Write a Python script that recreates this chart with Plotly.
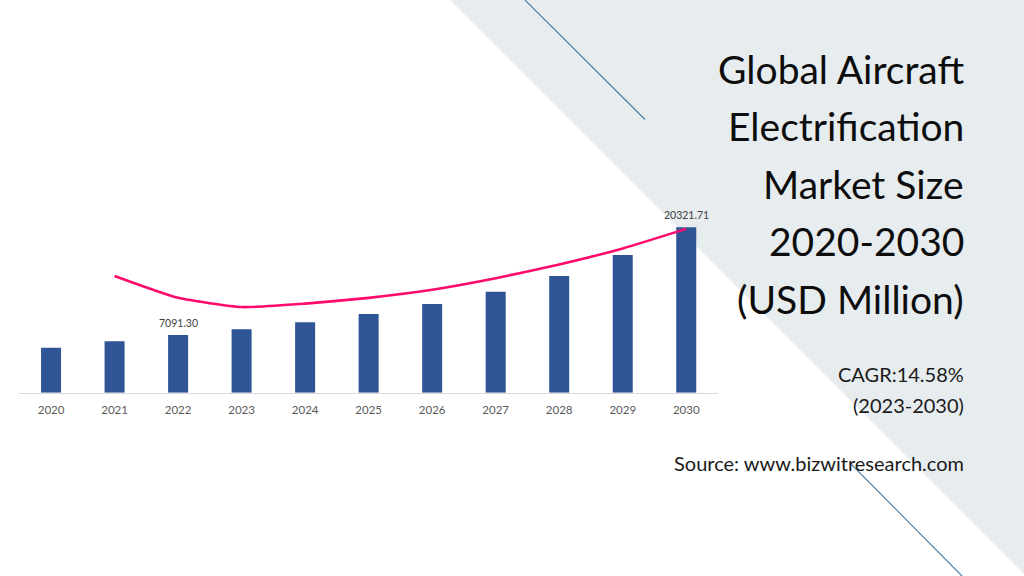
import plotly.graph_objects as go

W, H = 1024, 576

years = ["2020", "2021", "2022", "2023", "2024", "2025", "2026", "2027", "2028", "2029", "2030"]
market_size = [5530, 6315, 7091.30, 7790, 8650, 9670, 10900, 12410, 14340, 16920, 20321.71]
line_years = ["2021", "2022", "2023", "2024", "2025", "2026", "2027", "2028", "2029", "2030"]
line_values = [16.0, 14.1, 13.3, 13.6, 14.1, 14.8, 15.8, 17.0, 18.4, 20.1]
labeled_years = ["2022", "2030"]

title_lines = ["Global Aircraft", "Electrification", "Market Size", "2020-2030", "(USD Million)"]
cagr_lines = ["CAGR:14.58%", "(2023-2030)"]
source_text = "Source: www.bizwitresearch.com"

FONT = "Lato"

def px_x(x):
    return x / W

def px_y(y):
    return 1 - y / H

fig = go.Figure()
fig.add_trace(go.Bar(
    x=years, y=market_size, marker=dict(color="#2F5597", line=dict(width=0)),
    width=0.315, yaxis="y", hoverinfo="skip",
))
fig.add_trace(go.Scatter(
    x=line_years, y=line_values, mode="lines", yaxis="y2",
    line=dict(color="#FF0A6C", width=2.6, shape="spline", smoothing=0.5),
    hoverinfo="skip",
))

annotations = []
for i, (yr, v) in enumerate(zip(years, market_size)):
    if yr in labeled_years:
        annotations.append(dict(
            x=i, y=v, xref="x", yref="y", text=f"{v:.2f}", showarrow=False,
            xanchor="center", yanchor="bottom", yshift=4,
            font=dict(family=FONT, size=10.5, color="#404040"),
        ))

title_base = 68.5
for i, t in enumerate(title_lines):
    annotations.append(dict(
        x=px_x(966), y=px_y(title_base + i * 57.6), xref="paper", yref="paper",
        text=t, showarrow=False, xanchor="right", yanchor="middle",
        font=dict(family=FONT, size=39, color="#0D0D0D"),
    ))
for i, t in enumerate(cagr_lines):
    annotations.append(dict(
        x=px_x(966), y=px_y(374 + i * 30.5), xref="paper", yref="paper",
        text=t, showarrow=False, xanchor="right", yanchor="middle",
        font=dict(family=FONT, size=20, color="#1A1A1A"),
    ))
annotations.append(dict(
    x=px_x(966), y=px_y(463), xref="paper", yref="paper",
    text=source_text, showarrow=False, xanchor="right", yanchor="middle",
    font=dict(family=FONT, size=20, color="#1A1A1A"),
))

shapes = [
    dict(type="path", xref="paper", yref="paper", layer="below",
         path=f"M {px_x(450)},{px_y(0)} L {px_x(1024)},{px_y(0)} L {px_x(1024)},{px_y(574)} Z",
         fillcolor="#E7ECEF", line=dict(width=0)),
    dict(type="line", xref="paper", yref="paper", layer="below",
         x0=px_x(525), y0=px_y(0), x1=px_x(645), y1=px_y(119.5),
         line=dict(color="#4F7C9C", width=1.1)),
    dict(type="line", xref="paper", yref="paper", layer="above",
         x0=px_x(850), y0=px_y(463), x1=px_x(962), y1=px_y(576),
         line=dict(color="#4F7C9C", width=1.1)),
]

y_bottom_px = 392.7
y_top_px = 189.2

fig.update_layout(
    width=W, height=H,
    margin=dict(l=0, r=0, t=0, b=0, pad=0, autoexpand=False),
    paper_bgcolor="white", plot_bgcolor="rgba(0,0,0,0)",
    showlegend=False,
    xaxis=dict(
        domain=[px_x(19.3), px_x(718)], type="category", range=[-0.5, len(years) - 0.5],
        showline=True, linecolor="#D9D9D9", linewidth=1.3,
        showgrid=False, zeroline=False, ticks="", ticklabelstandoff=6,
        tickfont=dict(family=FONT, size=11.5, color="#595959"),
        fixedrange=True,
    ),
    yaxis=dict(
        domain=[px_y(y_bottom_px), px_y(y_top_px)], range=[0, 25000],
        visible=False, showgrid=False, zeroline=False, fixedrange=True,
    ),
    yaxis2=dict(
        domain=[px_y(y_bottom_px), px_y(y_top_px)], range=[5.85, 23.55],
        overlaying="y", visible=False, showgrid=False, zeroline=False,
        fixedrange=True,
    ),
    annotations=annotations,
    shapes=shapes,
)

fig.write_html(
    "out.html",
    config={"displayModeBar": False},
    post_script="document.body.style.margin='0';document.body.style.overflow='hidden';",
)
